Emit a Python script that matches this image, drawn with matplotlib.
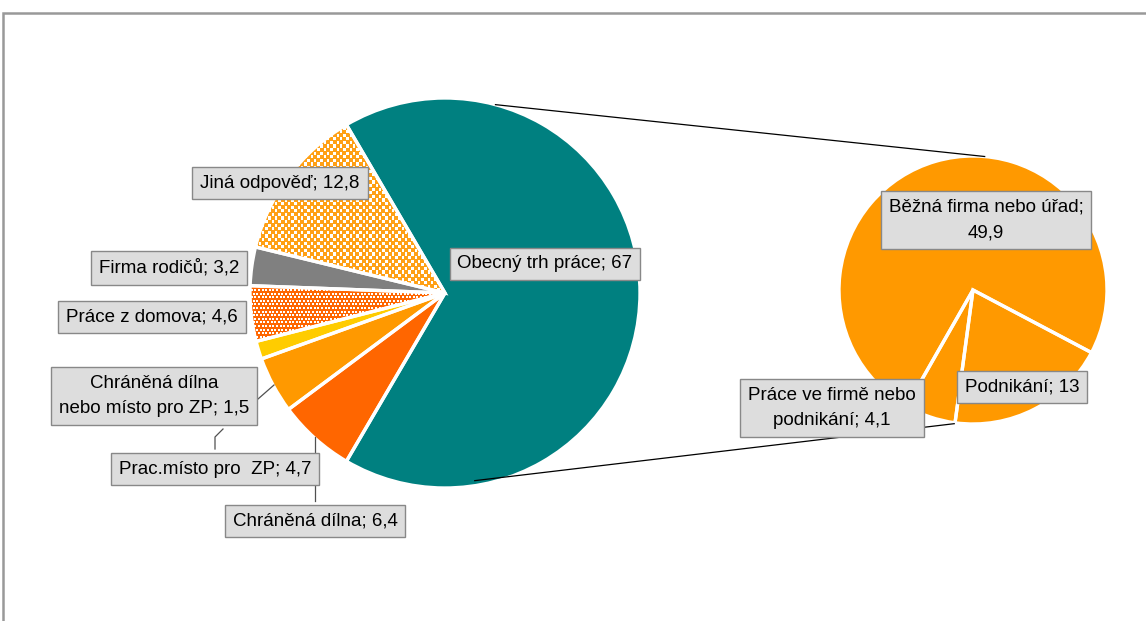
import numpy as np
import matplotlib.pyplot as plt

W, H = 1146, 621

main_labels = ['Obecný trh práce', 'Jiná odpověď', 'Firma rodičů', 'Práce z domova',
               'Chráněná dílna\nnebo místo pro ZP', 'Prac.místo pro  ZP', 'Chráněná dílna']
main_values = [67, 12.8, 3.2, 4.6, 1.5, 4.7, 6.4]
main_colors = ['#008080', '#FFFFFF', '#808080', '#FF6600', '#FFCC00', '#FF9900', '#FF6600']

sub_labels = ['Podnikání', 'Běžná firma nebo úřad', 'Práce ve firmě nebo\npodnikání']
sub_values = [13, 49.9, 4.1]
sub_seps = ['; ', ';\n', '; ']

# label box centres, in pixels from the top-left corner
main_label_pos = [(545, 264), (280, 183), (169, 268), (152, 317),
                  (154, 396), (215, 469), (315, 521)]
sub_label_pos = [(1022, 387), (986, 220), (832, 408)]

plt.rcParams['font.family'] = ['Liberation Sans', 'DejaVu Sans']

fig = plt.figure(figsize=(W / 100, H / 100), dpi=100)
ax = fig.add_axes([0, 0, 1, 1])


def fmt(v):
    return ('%g' % v).replace('.', ',')


def py(y):
    return H - y


main_c = (445, py(293))
main_r = 195
sub_c = (973, py(290))
sub_r = 134

main_start = -main_values[0] / sum(main_values) * 360 / 2
wedges, _ = ax.pie(main_values, colors=main_colors, startangle=main_start,
                   center=main_c, radius=main_r, frame=True,
                   wedgeprops=dict(linewidth=0))
sub_wedges, _ = ax.pie(sub_values, colors=['#FF9900'] * 3, startangle=-97.7,
                       center=sub_c, radius=sub_r, frame=True,
                       wedgeprops=dict(linewidth=0))


def dot_fill(wedge, color, px, pyy, size):
    gx = np.arange(main_c[0] - main_r, main_c[0] + main_r, px)
    gy = np.arange(main_c[1] - main_r, main_c[1] + main_r, pyy)
    xx, yy = np.meshgrid(gx, gy)
    xx = xx + (np.arange(len(gy))[:, None] % 2) * px / 2
    sc = ax.scatter(xx.ravel(), yy.ravel(), s=(size * 0.72) ** 2, marker='s',
                    color=color, linewidths=0, zorder=2)
    sc.set_clip_path(wedge)


dot_fill(wedges[1], '#FFA015', 6.5, 3.6, 3.3)
dot_fill(wedges[3], '#FFFFFF', 3.6, 3.6, 1.3)

# white separators on top of the patterns
for vals, st, c, r in [(main_values, main_start, main_c, main_r),
                       (sub_values, -97.7, sub_c, sub_r)]:
    outl, _ = ax.pie(vals, colors=['none'] * len(vals), startangle=st,
                     center=c, radius=r, frame=True,
                     wedgeprops=dict(linewidth=2.4, edgecolor='white'))
    for w in outl:
        w.set_zorder(3)


# connector lines between the two pies
def on_circle(c, r, ang):
    a = np.radians(ang)
    return c[0] + r * np.cos(a), c[1] + r * np.sin(a)


p1 = on_circle(main_c, main_r, 75)
p2 = on_circle(sub_c, sub_r, 85)
q1 = on_circle(main_c, 190, -81)
q2 = on_circle(sub_c, 135, -98)
ax.plot([p1[0], p2[0]], [p1[1], p2[1]], color='black', lw=0.9, zorder=4)
ax.plot([q1[0], q2[0]], [q1[1], q2[1]], color='black', lw=0.9, zorder=4)

# leader lines
leaders = [[(258, 399), (274, 385)],
           [(215, 449), (215, 437), (223, 429)],
           [(315, 501), (315, 437)]]
for ln in leaders:
    ax.plot([p[0] for p in ln], [py(p[1]) for p in ln], color='#505050',
            lw=0.9, zorder=4)

box = dict(boxstyle='square,pad=0.42', facecolor='#DDDDDD', edgecolor='#888888',
           linewidth=1)
for lab, v, (x, y) in zip(main_labels, main_values, main_label_pos):
    ax.text(x, py(y), lab + '; ' + fmt(v), ha='center', va='center',
            multialignment='center', fontsize=13.5, linespacing=1.65,
            bbox=box, zorder=6)
for lab, v, sep, (x, y) in zip(sub_labels, sub_values, sub_seps, sub_label_pos):
    ax.text(x, py(y), lab + sep + fmt(v), ha='center', va='center',
            multialignment='center', fontsize=13.5, linespacing=1.65,
            bbox=box, zorder=6)

# chart area frame
ax.plot([3, 3, W], [0, py(13), py(13)], color='#999999', lw=1.8, zorder=1,
        solid_joinstyle='miter')

ax.set_xlim(0, W)
ax.set_ylim(0, H)
ax.set_aspect('equal')
ax.axis('off')

fig.savefig('out.png', dpi=100)
